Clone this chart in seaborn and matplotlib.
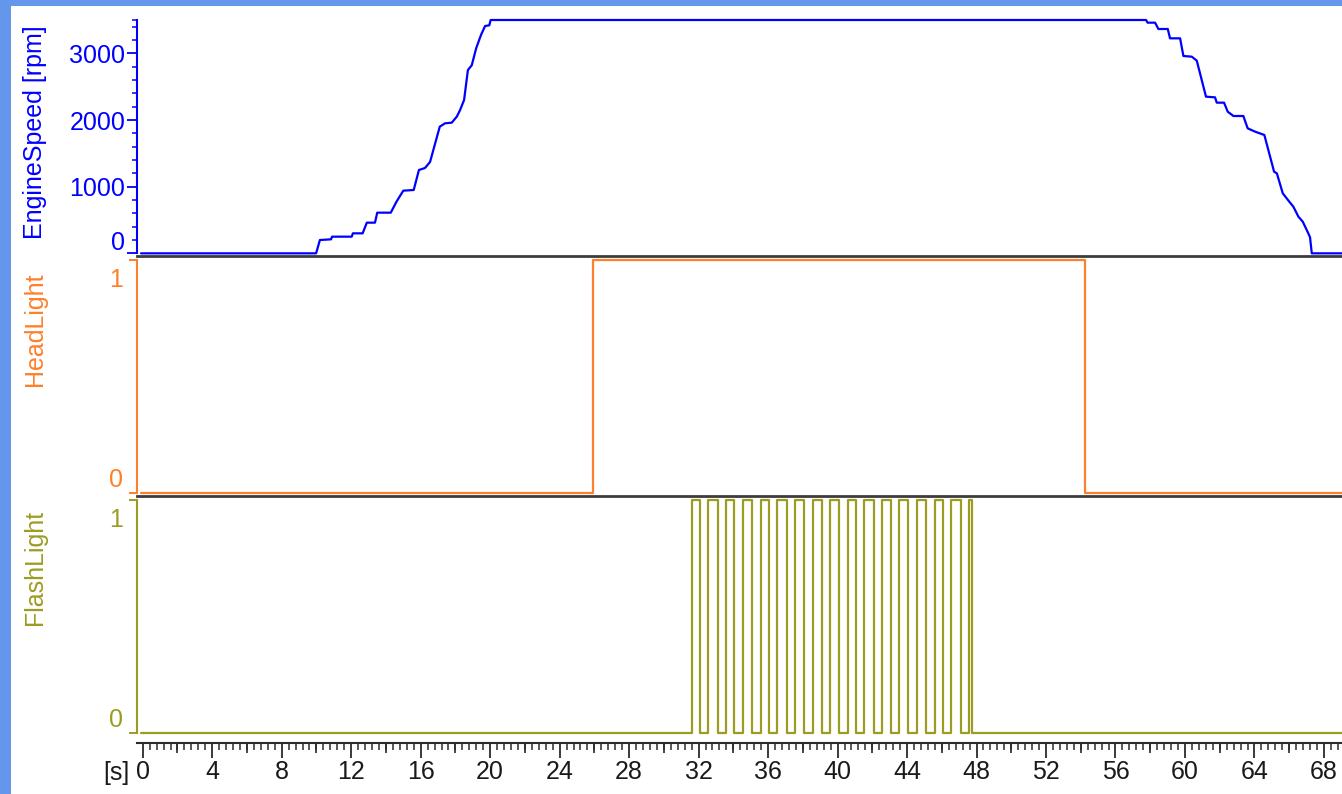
import numpy as np
import matplotlib
matplotlib.use("Agg")
import matplotlib.pyplot as plt
import matplotlib.transforms as mtransforms
from matplotlib.patches import Rectangle
from matplotlib.ticker import MultipleLocator, NullFormatter
import seaborn as sns

# EngineSpeed trace (time [s], rpm)
engine_t = [-0.1, 9.98, 10.2, 10.84, 10.9, 12.03, 12.1, 12.66, 12.9, 13.37, 13.5,
            14.28, 14.62, 15.0, 15.6, 15.9, 16.25, 16.54, 17.1, 17.4, 17.79, 18.08,
            18.27, 18.5, 18.72, 18.94, 19.2, 19.48, 19.71, 19.95, 20.03,
            57.76, 57.85, 58.28, 58.47, 59.01, 59.14, 59.72, 59.91, 60.39, 60.68,
            61.21, 61.73, 61.83, 62.25, 62.46, 62.79, 63.36, 63.61, 64.04, 64.57,
            65.13, 65.29, 65.63, 66.05, 66.24, 66.53, 66.78, 67.1, 67.2, 67.3, 69.1]
engine_rpm = [0, 0, 200, 210, 250, 250, 300, 300, 460, 460, 610,
              610, 780, 940, 950, 1250, 1280, 1370, 1900, 1950, 1960, 2050,
              2150, 2300, 2750, 2820, 3080, 3280, 3410, 3420, 3500,
              3500, 3460, 3460, 3365, 3365, 3225, 3225, 2960, 2950, 2890,
              2350, 2340, 2260, 2260, 2125, 2060, 2060, 1875, 1825, 1775,
              1225, 1200, 900, 760, 700, 550, 475, 300, 240, 0, 0]

# HeadLight switching times and states
head_t = [-0.1, 25.9, 54.25, 69.1]
head_state = [0, 1, 0, 0]

# FlashLight pulses: on / off edges
flash_on = [31.6, 32.55, 33.55, 34.57, 35.6, 36.52, 37.55, 38.57, 39.57, 40.58,
            41.53, 42.55, 43.56, 44.57, 45.6, 46.53, 47.57]
flash_off = [32.08, 33.1, 34.05, 35.06, 36.07, 37.08, 38.09, 39.09, 40.09, 41.07,
             42.07, 43.08, 44.08, 45.08, 46.09, 47.1, 47.76]

x_labels = [str(v) for v in range(0, 69, 4)]

blue = "#0000ff"
orange = "#ff7f2a"
olive = "#9c9c22"
frame = "#6497ec"

sns.set_style("white")
plt.rcParams["font.family"] = ["Liberation Sans", "DejaVu Sans"]

# build the flash step series
flash_t = [-0.1]
flash_state = [0]
for a, b in zip(flash_on, flash_off):
    flash_t += [a, b]
    flash_state += [1, 0]
flash_t.append(69.1)
flash_state.append(0)

fig = plt.figure(figsize=(13.42, 7.94), dpi=100)
L = 137 / 1342
W = 1 - L
ax1 = fig.add_axes([L, 1 - 256 / 794, W, 238 / 794])
ax2 = fig.add_axes([L, 1 - 496 / 794, W, 240 / 794], sharex=ax1)
ax3 = fig.add_axes([L, 1 - 736 / 794, W, 240 / 794], sharex=ax1)

sns.lineplot(x=engine_t, y=engine_rpm, ax=ax1, color=blue, lw=1.6, estimator=None, sort=False)
sns.lineplot(x=head_t, y=head_state, ax=ax2, color=orange, lw=1.6, estimator=None,
             drawstyle="steps-post")
sns.lineplot(x=flash_t, y=flash_state, ax=ax3, color=olive, lw=1.6, estimator=None,
             sort=False, drawstyle="steps-post")

ax1.set_xlim(-0.33, 69.04)
ax1.set_ylim(-40, 3530)
ax2.set_ylim(-0.013, 1.017)
ax3.set_ylim(-0.013, 1.017)

off = lambda dy: mtransforms.ScaledTranslation(0, dy / 100, fig.dpi_scale_trans)

panels = [(ax1, "EngineSpeed [rpm]", blue, 0.9706),
          (ax2, "HeadLight", orange, 0.933),
          (ax3, "FlashLight", olive, 0.942)]
for ax, name, col, ytop in panels:
    for s in ["right", "top", "bottom"]:
        ax.spines[s].set_visible(False)
    ax.spines["left"].set_color(col)
    ax.spines["left"].set_linewidth(1.5)
    ax.set_ylabel(name, color=col, fontsize=18)
    ax.yaxis.set_label_coords(-0.0846, ytop)
    lab = ax.yaxis.label
    lab.set_rotation_mode("default")
    lab.set_ha("center")
    lab.set_va("top")
    ax.grid(False)
    ax.set_xlabel("")

# separators between panels
for ax in (ax2, ax3):
    ax.spines["top"].set_visible(True)
    ax.spines["top"].set_color("#3c3c3c")
    ax.spines["top"].set_linewidth(2)

# EngineSpeed axis
ax1.spines["left"].set_bounds(0, 3500)
ax1.set_yticks([0, 1000, 2000, 3000], ["0", "1000", "2000", "3000"])
ax1.set_yticks(list(range(200, 3500, 200)) + [3500], minor=True)
ax1.tick_params(axis="y", which="major", left=True, colors=blue, length=7, width=1.3,
                labelsize=18, pad=1.5)
ax1.tick_params(axis="y", which="minor", left=True, colors=blue, length=3.5, width=1.1)
ax1.get_yticklabels()[0].set_transform(ax1.get_yticklabels()[0].get_transform() + off(13))

# binary panels
for ax, col in ((ax2, orange), (ax3, olive)):
    ax.spines["left"].set_bounds(0, 1)
    ax.set_yticks([0, 1], ["0", "1"])
    ax.tick_params(axis="y", left=True, colors=col, length=6, width=1.4, labelsize=18, pad=4)
    labs = ax.get_yticklabels()
    labs[0].set_transform(labs[0].get_transform() + off(15))
    labs[1].set_transform(labs[1].get_transform() + off(-18))

for ax in (ax1, ax2):
    ax.tick_params(axis="x", which="both", bottom=False, labelbottom=False)

# time ruler
ax3.spines["bottom"].set_visible(True)
ax3.spines["bottom"].set_color("#2a2a2a")
ax3.spines["bottom"].set_linewidth(1.5)
ax3.spines["bottom"].set_position(("axes", -0.029))
ax3.set_xticks(list(range(0, 69, 4)), x_labels)
ax3.xaxis.set_minor_locator(MultipleLocator(0.4))
ax3.tick_params(axis="x", which="major", bottom=True, length=10.5, width=1.3,
                color="#2a2a2a", labelsize=18, labelcolor="#1a1a1a", pad=2)
ax3.tick_params(axis="x", which="minor", bottom=True, length=4.8, width=1.1, color="#2a2a2a")

sec = ax3.secondary_xaxis(-0.029)
sec.set_xticks(list(range(2, 69, 4)))
sec.xaxis.set_major_formatter(NullFormatter())
sec.tick_params(axis="x", which="major", bottom=True, length=7, width=1.2, color="#2a2a2a")
sec.tick_params(axis="x", which="minor", bottom=False)
sec.spines["bottom"].set_visible(False)

ax3.annotate("[s]", xy=(0, 0), xycoords="axes fraction", xytext=(-15.1, -26.6),
             textcoords="offset points", ha="center", va="center", fontsize=18,
             color="#1a1a1a", annotation_clip=False)

# blue window frame on left and top
fig.patches.append(Rectangle((0, 0), 11 / 1342, 1, transform=fig.transFigure,
                             facecolor=frame, edgecolor="none", zorder=10))
fig.patches.append(Rectangle((0, 1 - 6 / 794), 1, 6 / 794, transform=fig.transFigure,
                             facecolor=frame, edgecolor="none", zorder=10))

fig.savefig("out.png", dpi=100)
